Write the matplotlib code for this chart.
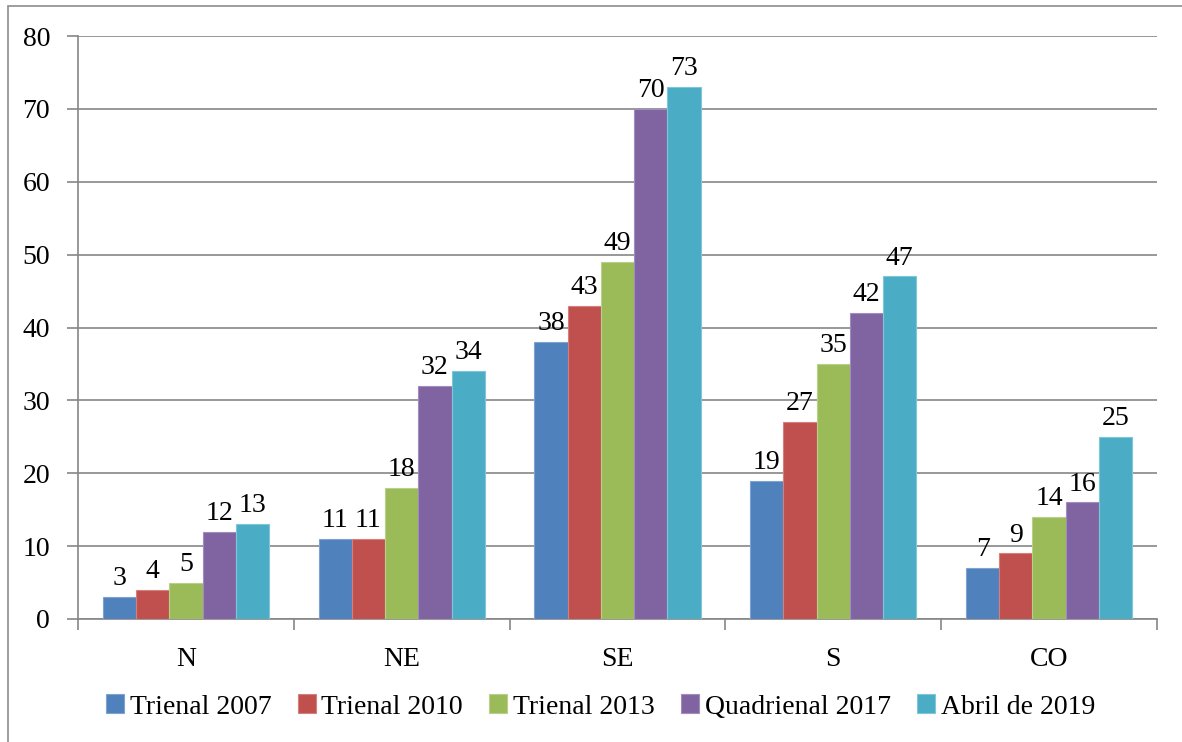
import numpy as np
import matplotlib.pyplot as plt
from matplotlib.patches import Rectangle

regions = ["N", "NE", "SE", "S", "CO"]
series_names = ["Trienal 2007", "Trienal 2010", "Trienal 2013", "Quadrienal 2017", "Abril de 2019"]
trienal_2007 = [3, 11, 38, 19, 7]
trienal_2010 = [4, 11, 43, 27, 9]
trienal_2013 = [5, 18, 49, 35, 14]
quadrienal_2017 = [12, 32, 70, 42, 16]
abril_2019 = [13, 34, 73, 47, 25]
series_values = [trienal_2007, trienal_2010, trienal_2013, quadrienal_2017, abril_2019]

colors = ["#4F81BD", "#C0504D", "#9BBB59", "#8064A2", "#4BACC6"]
edges = ["#7FA3D0", "#D6807E", "#B8D08A", "#A08CBE", "#7FC7D8"]

plt.rcParams['font.family'] = ['Liberation Serif', 'DejaVu Serif']
grid_col = "#868686"
fs = 20

fig = plt.figure(figsize=(11.82, 7.42), dpi=100)
ax = fig.add_axes([78 / 1182, 1 - 619 / 742, (1157 - 78) / 1182, (619 - 36) / 742])

# outer chart frame
fig.patches.append(Rectangle((8 / 1182, -0.1), 1.2, 0.1 + (742 - 6) / 742,
                             transform=fig.transFigure, fill=False,
                             edgecolor="#8C8C8C", linewidth=1.2))

x = np.arange(len(regions))
bw = 0.154
for i, (name, vals) in enumerate(zip(series_names, series_values)):
    pos = x + (i - 2) * bw
    bars = ax.bar(pos, vals, width=bw, color=colors[i], edgecolor=edges[i],
                  linewidth=0.8, label=name, zorder=3)
    for b, v in zip(bars, vals):
        ax.text(b.get_x() + b.get_width() / 2, v + 0.8, str(v),
                ha="center", va="bottom", fontsize=fs, zorder=4)

ax.set_xlim(-0.5, 4.5)
ax.set_ylim(0, 80)
ax.set_yticks(range(0, 81, 10))
ax.yaxis.grid(True, color=grid_col, linewidth=1.2, zorder=0)

ax.set_xticks(np.arange(-0.5, 5, 1))
ax.set_xticklabels([])
ax.set_xticks(x, minor=True)
ax.set_xticklabels(regions, minor=True)
ax.tick_params(axis="x", which="major", direction="out", length=8,
               color=grid_col, width=1.2)
ax.tick_params(axis="x", which="minor", length=0, pad=20, labelsize=fs)
ax.tick_params(axis="y", direction="out", length=8, color=grid_col,
               width=1.2, labelsize=fs, pad=12)

for s in ["top", "right"]:
    ax.spines[s].set_visible(False)
for s in ["left", "bottom"]:
    ax.spines[s].set_color(grid_col)
    ax.spines[s].set_linewidth(1.2)

fig.legend(loc="center", bbox_to_anchor=(0.508, 1 - 707 / 742), ncol=5,
           frameon=False, fontsize=fs, handlelength=0.65, handleheight=0.65,
           handletextpad=0.2, columnspacing=0.95)

fig.savefig("out.png", dpi=100)
